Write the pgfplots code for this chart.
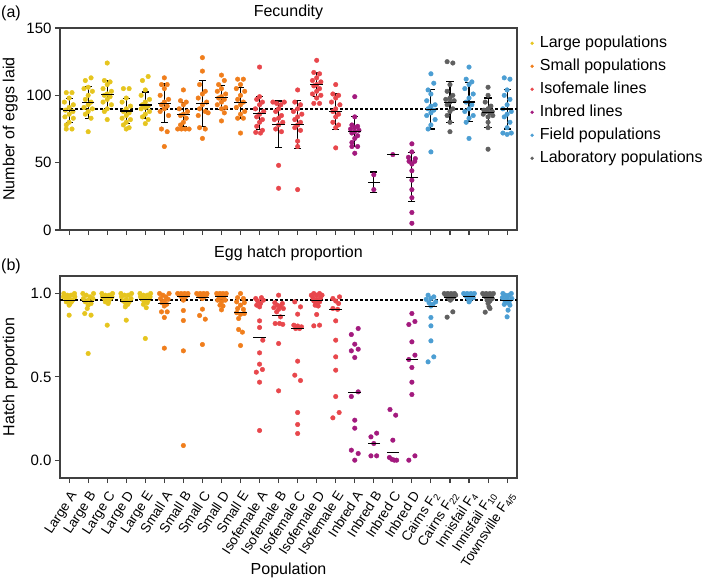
\documentclass[border=0pt]{standalone}
\usepackage{fontspec}
\setmainfont{Liberation Sans}
\usepackage{pgfplots}
\pgfplotsset{compat=1.18}
\definecolor{cLarge}{HTML}{E6C51F}
\definecolor{cSmall}{HTML}{F07E1C}
\definecolor{cIso}{HTML}{E8474C}
\definecolor{cInb}{HTML}{A31A7E}
\definecolor{cField}{HTML}{4C9ED3}
\definecolor{cLab}{HTML}{606060}
\definecolor{axgray}{HTML}{404040}
\pgfplotsset{
  dots/.style={only marks, mark=*, mark size=2.3pt, color=#1, mark options={draw=#1, fill=#1, line width=0.4pt}, forget plot},
  legdot/.style={only marks, mark=*, mark size=1.5pt, color=#1, mark options={draw=#1, fill=#1, line width=0.4pt}},
  meanline/.style={only marks, mark=-, mark size=6.3pt, mark options={line width=1.2pt, black}, forget plot},
  mybase/.style={
    scale only axis, width=457pt, height=202pt,
    xmin=-0.48, xmax=23.52,
    xtick={0,...,23},
    axis line style={axgray, line width=1.1pt},
    tick style={axgray, line width=1.1pt},
    major tick length=5pt,
    tick align=outside,
    xtick pos=bottom, ytick pos=left,
    /pgf/number format/assume math mode=true,
    yticklabel style={font=\fontsize{15}{18}\selectfont},
    every axis title/.style={at={(axis description cs:0.5,1.079)}, anchor=center, font=\fontsize{16}{19}\selectfont},
    every axis y label/.style={at={(axis description cs:-0.109,0.5)}, rotate=90, anchor=center, font=\fontsize{16}{19}\selectfont},
    every axis x label/.style={at={(axis description cs:0.5,-0.455)}, anchor=center, font=\fontsize{16}{19}\selectfont},
  }
}
\begin{document}
\begin{tikzpicture}
\path[use as bounding box] (0pt,0pt) rectangle (709pt,-581pt);
% ---------------- (a) Fecundity ----------------
\begin{axis}[mybase, at={(60pt,-28pt)}, anchor=north west,
  ymin=0, ymax=150, ytick={0,50,100,150}, xticklabels={},
  title={Fecundity}, ylabel={Number of eggs laid},
  legend style={at={(1.0295,0.962)}, anchor=north west, draw=none, fill=none, inner sep=0pt,
    row sep=8.2pt, column sep=6.2pt, font=\fontsize{16}{19}\selectfont,
    nodes={inner sep=0pt, text height=11.5pt, text depth=3.3pt}},
  legend cell align=left]
\addlegendimage{legdot=cLarge}
\addlegendentry{Large populations}
\addlegendimage{legdot=cSmall}
\addlegendentry{Small populations}
\addlegendimage{legdot=cIso}
\addlegendentry{Isofemale lines}
\addlegendimage{legdot=cInb}
\addlegendentry{Inbred lines}
\addlegendimage{legdot=cField}
\addlegendentry{Field populations}
\addlegendimage{legdot=cLab}
\addlegendentry{Laboratory populations}
% Large
\addplot[dots=cLarge] coordinates {
(-0.15,102) (0.15,102) (0,98) (-0.25,95) (0.22,93) (0,91) (-0.2,89) (0.2,88) (0,86) (-0.22,84) (0.22,83) (0,80) (-0.15,78) (-0.15,75) (0.15,75)
(1.15,113) (0.85,111) (1.0,106) (0.78,105) (1.22,103) (1.0,100) (0.85,97) (1.15,95) (1.0,93) (0.78,91) (1.22,90) (1.0,88) (0.85,86) (1.15,83) (1.0,73)
(2.0,124) (1.85,111) (2.15,110) (2.0,108) (1.78,105) (2.22,103) (2.0,101) (1.85,100) (2.15,99) (2.0,97) (1.78,95) (2.22,93) (2.0,90) (1.85,88) (2.0,82)
(2.85,105) (3.15,105) (3.0,98) (2.78,95) (3.22,92) (3.0,90) (2.85,88) (3.15,87) (3.0,85) (2.78,83) (3.22,82) (3.0,80) (2.85,78) (3.15,76) (3.0,75)
(4.15,114) (3.85,111) (4.0,104) (3.78,100) (4.22,97) (4.0,95) (3.85,93) (4.15,92) (4.0,91) (3.78,90) (4.22,88) (4.0,86) (3.85,84) (4.15,82) (4.0,79)
};
% Small
\addplot[dots=cSmall] coordinates {
(5.0,113) (4.85,108) (5.15,108) (5.0,105) (4.78,100) (5.22,97) (5.0,95) (4.85,93) (5.15,92) (5.0,90) (4.78,88) (5.22,85) (4.85,75) (5.15,73) (5.0,62)
(6.0,104) (5.85,96) (6.15,95) (6.0,93) (5.78,90) (6.22,88) (6.0,86) (5.85,85) (6.15,83) (6.0,80) (5.85,78) (5.7,75) (5.9,75) (6.1,75) (6.3,75)
(7.0,128) (7.0,118) (6.85,108) (7.15,103) (7.0,101) (6.78,98) (7.22,95) (7.0,93) (6.85,90) (7.15,88) (7.3,87) (6.78,85) (6.85,76) (7.15,75) (7.0,68)
(8.0,115) (8.15,111) (7.85,108) (8.0,105) (7.78,103) (8.22,101) (8.0,99) (7.85,98) (8.15,97) (8.0,95) (7.78,93) (8.22,91) (8.0,90) (8.15,87) (8.0,81)
(8.85,112) (9.15,112) (9.0,108) (8.78,105) (9.22,103) (9.0,100) (8.85,97) (9.15,95) (9.0,93) (8.78,91) (9.22,88) (9.0,86) (8.85,83) (9.15,83) (9.0,72)
};
% Isofemale
\addplot[dots=cIso] coordinates {
(10.0,121) (10.0,99) (9.85,97) (10.15,95) (10.0,93) (9.78,90) (10.22,88) (10.0,86) (9.85,84) (10.15,82) (10.0,80) (9.85,77) (10.15,74) (9.8,72.5) (10.05,72)
(10.7,95) (11.3,95) (10.9,94) (11.12,93) (11.0,90) (10.85,88) (11.15,85) (11.0,83) (10.78,82) (11.22,80) (11.0,78) (10.85,75) (11.15,73) (11.0,48) (11.0,31)
(12.0,104) (11.85,95) (12.15,93) (12.0,90) (11.78,88) (12.22,86) (12.0,84) (11.85,82) (12.15,80) (12.0,78) (11.85,76) (12.15,74) (12.0,66) (12.0,62) (12.0,30)
(13.0,126) (12.85,117) (13.15,116) (13.0,113) (12.78,111) (13.22,110) (13.0,108) (12.85,107) (13.15,105) (13.0,103) (12.78,101) (13.22,100) (13.0,98) (12.85,94) (13.15,94)
(14.0,108) (13.85,101) (14.15,100) (14.0,98) (13.78,95) (14.22,93) (14.0,90) (13.85,88) (14.15,86) (14.0,84) (13.85,80) (14.15,78) (14.0,76) (14.0,61)
};
% Inbred
\addplot[dots=cInb] coordinates {
(15.0,99) (15.0,84) (14.85,78) (15.15,77) (15.0,76) (14.78,75) (15.22,74) (15.0,73) (14.85,72) (15.15,70) (15.0,68) (14.85,65) (14.85,62) (15.15,62) (15.0,57)
(16.0,41) (16.0,30)
(17.0,56)
(18.0,64) (18.0,58) (17.82,54) (18.18,53) (17.85,51) (18.15,51) (18.0,49) (18.0,44) (18.0,37) (18.0,30) (18.0,24) (18.0,13) (18.0,5)
};
% Field
\addplot[dots=cField] coordinates {
(19.0,116) (19.15,109) (18.85,104) (19.0,101) (18.78,96) (19.22,93) (19.0,92) (18.85,90) (19.15,89) (19.0,87) (18.78,85) (19.22,82) (19.0,78) (18.85,75) (19.0,58)
(21.0,121) (20.85,112) (21.15,110) (21.0,108) (20.78,105) (21.22,101) (21.0,98) (20.85,95) (21.15,93) (21.0,90) (20.78,88) (21.22,85) (21.0,83) (20.85,80) (21.0,68)
(22.85,113) (23.15,112) (23.0,104) (22.85,100) (23.15,97) (23.0,93) (22.78,90) (23.22,88) (23.0,86) (22.85,84) (23.15,80) (23.0,76) (22.78,72) (23.0,71) (23.22,72)
};
% Laboratory
\addplot[dots=cLab] coordinates {
(19.85,125) (20.15,124) (20.0,108) (19.85,103) (20.15,100) (20.0,98) (19.78,97) (20.22,96) (20.0,95) (19.85,93) (20.15,90) (20.0,88) (19.85,85) (20.0,80) (20.0,73)
(22.0,106) (22.0,100) (21.85,95) (22.15,92) (22.0,90) (21.78,89) (22.22,88) (21.9,88) (22.1,87) (21.75,86) (22.25,85) (22.0,84) (22.0,80) (22.0,76) (22.0,60)
};
\addplot[black, line width=1.4pt, dash pattern=on 3pt off 2pt, forget plot] coordinates {(-0.48,90) (23.52,90)};
% means +- SD
\addplot[meanline, error bars/.cd, y dir=both, y explicit,
  error bar style={line width=1.1pt, black},
  error mark options={rotate=90, mark size=3.6pt, line width=1.1pt, black}] coordinates {
(0,88.6) +- (0,8.9)
(1,94.6) +- (0,11.7)
(2,100.7) +- (0,10.3)
(3,88.4) +- (0,9.2)
(4,92.8) +- (0,9.7)
(5,94.1) +- (0,14.6)
(6,86) +- (0,9)
(7,94) +- (0,17)
(8,98.2) +- (0,8.8)
(9,94.4) +- (0,11.3)
(10,86.8) +- (0,12.5)
(11,78.4) +- (0,17.4)
(12,78.3) +- (0,17.7)
(13,108) +- (0,9)
(14,88.2) +- (0,13.3)
(15,73.2) +- (0,11.2)
(16,35.4) +- (0,7.7)
(17,56) +- (0,0)
(18,39.2) +- (0,18.2)
(19,89.5) +- (0,14.5)
(20,94.9) +- (0,15.2)
(21,95) +- (0,14.4)
(22,87) +- (0,11)
(23,89.8) +- (0,14.8)
};
\end{axis}
% ---------------- (b) Egg hatch proportion ----------------
\begin{axis}[mybase, at={(60pt,-276pt)}, anchor=north west,
  ymin=-0.107, ymax=1.105, ytick={0,0.5,1},
  yticklabel style={/pgf/number format/.cd, fixed, fixed zerofill, precision=1},
  every axis title/.style={at={(axis description cs:0.5,1.111)}, anchor=center, font=\fontsize{16}{19}\selectfont},
  title={Egg hatch proportion}, ylabel={Hatch proportion}, xlabel={Population},
  xticklabels={Large A, Large B, Large C, Large D, Large E, Small A, Small B, Small C, Small D, Small E,
    Isofemale A, Isofemale B, Isofemale C, Isofemale D, Isofemale E, Inbred A, Inbred B, Inbred C, Inbred D,
    Cairns F\textsubscript{2}, Cairns F\textsubscript{22}, Innisfail F\textsubscript{4}, Innisfail F\textsubscript{10}, Townsville F\textsubscript{4/5}},
  xticklabel shift=6pt,
  x tick label style={rotate=57, anchor=north east, font=\fontsize{13.5}{16}\selectfont, inner sep=0.5pt}]
% Large
\addplot[dots=cLarge] coordinates {
(-0.28,1.0) (0.28,1.0) (-0.1,0.99) (0.1,0.99) (-0.3,0.98) (0.3,0.98) (0,0.97) (-0.18,0.97) (0.18,0.96) (-0.05,0.96) (0.12,0.95) (-0.15,0.95) (0.05,0.94) (0,0.93) (0,0.87)
(0.72,1.0) (1.28,1.0) (0.9,0.99) (1.1,0.98) (0.75,0.97) (1.25,0.97) (1.0,0.96) (0.85,0.95) (1.15,0.94) (1.0,0.93) (0.95,0.91) (0.82,0.88) (1.15,0.87) (1.0,0.64)
(1.72,1.0) (2.28,1.0) (1.9,0.99) (2.1,0.99) (1.75,0.98) (2.25,0.98) (2.0,0.975) (1.85,0.97) (2.15,0.97) (1.95,0.96) (2.08,0.955) (1.9,0.95) (2.05,0.94) (2.0,0.81)
(2.72,1.0) (3.28,1.0) (2.9,0.99) (3.1,0.99) (2.75,0.98) (3.25,0.97) (3.0,0.965) (2.85,0.955) (3.15,0.95) (2.95,0.945) (3.08,0.935) (2.95,0.92) (3.0,0.84)
(3.72,1.0) (4.28,1.0) (3.9,0.99) (4.1,0.99) (3.75,0.98) (4.25,0.98) (4.0,0.97) (3.85,0.965) (4.15,0.96) (3.95,0.95) (4.1,0.945) (3.9,0.935) (4.05,0.915) (4.0,0.73)
};
% Small
\addplot[dots=cSmall] coordinates {
(4.75,1.0) (5.25,1.0) (4.92,0.99) (5.08,0.98) (4.8,0.97) (5.2,0.965) (5.0,0.955) (4.88,0.945) (5.12,0.935) (5.0,0.925) (4.85,0.89) (5.15,0.89) (5.0,0.856) (5.0,0.672)
(5.7,1.0) (5.88,1.0) (6.06,1.0) (6.24,1.0) (5.8,0.99) (6.0,0.99) (6.2,0.99) (5.9,0.98) (6.1,0.98) (6.0,0.97) (6.0,0.96) (6.0,0.898) (6.0,0.838) (6.0,0.656) (6.0,0.088)
(6.7,1.0) (6.88,1.0) (7.06,1.0) (7.24,1.0) (6.8,0.99) (7.0,0.99) (7.2,0.99) (6.9,0.98) (7.1,0.98) (7.0,0.97) (7.0,0.906) (6.85,0.868) (7.15,0.846) (7.0,0.694)
(7.75,1.0) (7.92,1.0) (8.08,1.0) (8.25,1.0) (7.8,0.99) (8.0,0.99) (8.2,0.99) (7.9,0.975) (8.1,0.975) (7.8,0.96) (8.2,0.96) (8.0,0.95) (7.92,0.93) (8.08,0.925) (8.0,0.902)
(9.0,1.0) (8.85,0.975) (9.15,0.97) (8.8,0.95) (9.2,0.945) (9.0,0.93) (8.85,0.91) (9.15,0.905) (8.8,0.885) (9.2,0.88) (9.0,0.875) (8.9,0.85) (8.9,0.784) (9.1,0.768) (9.0,0.688)
};
% Isofemale
\addplot[dots=cIso] coordinates {
(9.8,0.97) (10.1,0.975) (10.2,0.96) (9.9,0.955) (10.05,0.94) (9.85,0.93) (10.0,0.92) (10.0,0.836) (10.0,0.796) (10.17,0.72) (10.0,0.644) (10.0,0.576) (10.15,0.544) (9.83,0.528) (10.0,0.468) (10.0,0.178)
(11.0,0.99) (10.8,0.945) (11.2,0.94) (10.92,0.93) (11.08,0.925) (10.75,0.915) (11.25,0.91) (11.0,0.905) (10.9,0.89) (11.1,0.86) (10.82,0.82) (11.05,0.82) (11.22,0.815) (11.0,0.70) (11.0,0.416)
(11.85,0.95) (12.15,0.92) (12.0,0.876) (11.8,0.81) (12.0,0.805) (12.2,0.80) (11.9,0.79) (12.1,0.79) (12.0,0.594) (11.85,0.51) (12.15,0.478) (12.0,0.286) (12.0,0.214) (12.0,0.16)
(12.85,1.0) (13.15,1.0) (12.72,0.99) (13.0,0.99) (13.28,0.99) (12.8,0.975) (13.2,0.975) (13.0,0.965) (12.85,0.955) (13.15,0.95) (13.0,0.94) (12.92,0.93) (13.08,0.925) (13.0,0.874) (12.85,0.806) (13.15,0.81)
(14.2,0.98) (13.85,0.97) (14.0,0.955) (14.15,0.94) (13.85,0.91) (14.1,0.905) (14.0,0.836) (14.0,0.72) (14.0,0.62) (14.0,0.54) (14.0,0.382) (14.18,0.286) (13.85,0.254)
};
% Inbred
\addplot[dots=cInb] coordinates {
(15.18,0.79) (14.82,0.754) (15.0,0.696) (15.18,0.666) (14.82,0.656) (15.0,0.616) (15.18,0.41) (14.82,0.382) (15.0,0.24) (15.0,0.192) (14.82,0.06) (15.18,0.04) (15.0,0.0)
(16.15,0.162) (15.85,0.14) (16.0,0.10) (15.85,0.026) (16.15,0.026)
(16.85,0.304) (17.15,0.27) (17.0,0.12) (16.82,0.016) (16.95,0.005) (17.08,0.0) (17.2,0.0)
(18.0,0.88) (18.16,0.832) (17.84,0.814) (18.0,0.71) (18.16,0.63) (17.84,0.604) (18.0,0.556) (18.0,0.468) (18.0,0.394) (18.16,0.026) (17.84,0.0)
};
% Field
\addplot[dots=cField] coordinates {
(18.85,0.99) (19.15,0.98) (18.75,0.965) (19.0,0.97) (19.25,0.95) (18.9,0.945) (19.1,0.935) (19.0,0.925) (19.0,0.856) (19.0,0.806) (19.0,0.716) (19.15,0.62) (18.85,0.59)
(20.72,1.0) (20.9,1.0) (21.1,1.0) (21.28,1.0) (20.8,0.99) (21.0,0.99) (21.2,0.99) (20.88,0.98) (21.08,0.98) (21.22,0.975) (20.95,0.97) (21.05,0.96) (21.0,0.95)
(22.78,1.0) (23.22,1.0) (22.9,0.99) (23.1,0.99) (22.75,0.975) (23.0,0.975) (23.25,0.97) (22.88,0.96) (23.12,0.955) (23.0,0.945) (22.85,0.935) (23.15,0.93) (23.05,0.90) (23.0,0.86)
};
% Laboratory
\addplot[dots=cLab] coordinates {
(19.7,1.0) (19.88,1.0) (20.06,1.0) (20.24,1.0) (19.78,0.99) (19.96,0.99) (20.14,0.99) (20.3,0.99) (19.87,0.98) (20.05,0.98) (20.2,0.98) (19.95,0.97) (20.1,0.97) (20.02,0.96) (20.15,0.89) (19.85,0.858)
(21.72,1.0) (21.9,1.0) (22.1,1.0) (22.28,1.0) (21.8,0.99) (22.0,0.99) (22.2,0.99) (21.88,0.98) (22.08,0.975) (22.22,0.97) (21.95,0.96) (22.1,0.955) (22.0,0.94) (22.05,0.92) (22.1,0.91) (21.85,0.888)
};
\addplot[black, line width=1.4pt, dash pattern=on 3pt off 2pt, forget plot] coordinates {(-0.48,0.96) (23.52,0.96)};
\addplot[meanline] coordinates {
(0,0.96) (1,0.95) (2,0.974) (3,0.954) (4,0.966) (5,0.94) (6,0.98) (7,0.974) (8,0.98) (9,0.884)
(10,0.738) (11,0.868) (12,0.79) (13,0.96) (14,0.902) (15,0.406) (16,0.10) (17,0.046) (18,0.604)
(19,0.924) (20,0.978) (21,0.984) (22,0.974) (23,0.96)
};
\end{axis}
\node[anchor=west, inner sep=0pt, font=\fontsize{16}{19}\selectfont] at (1pt,-13pt) {(a)};
\node[anchor=west, inner sep=0pt, font=\fontsize{16}{19}\selectfont] at (1pt,-266pt) {(b)};
\end{tikzpicture}
\end{document}
